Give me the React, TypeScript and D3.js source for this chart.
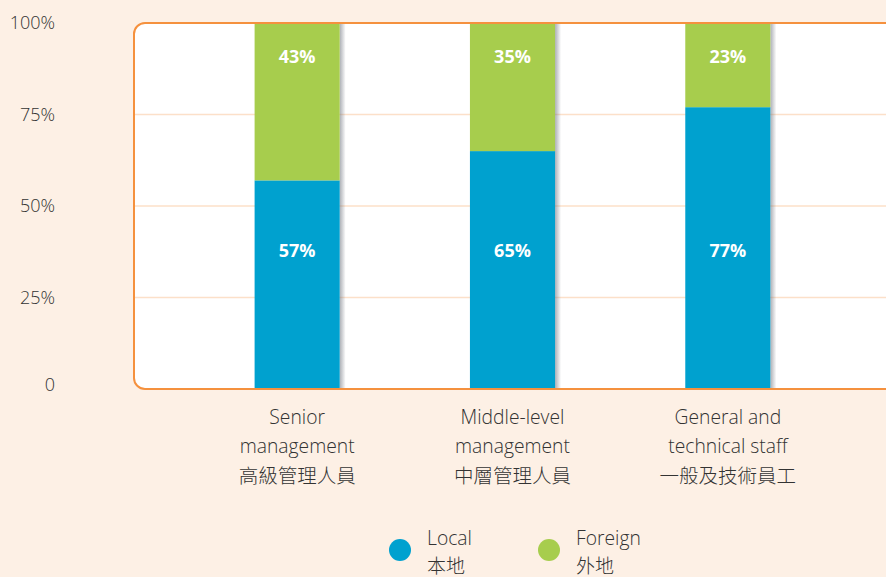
import React from "react";
import * as d3 from "d3";

const categoriesEn: string[][] = [
  ["Senior", "management"],
  ["Middle-level", "management"],
  ["General and", "technical staff"],
];
const categoriesZh: string[] = ["高級管理人員", "中層管理人員", "一般及技術員工"];
const localValues: number[] = [57, 65, 77];
const foreignValues: number[] = [43, 35, 23];
const yTicks: number[] = [0, 25, 50, 75, 100];
const yTickLabels: string[] = ["0", "25%", "50%", "75%", "100%"];
const legendEn: string[] = ["Local", "Foreign"];
const legendZh: string[] = ["本地", "外地"];

const W = 886;
const H = 577;
const BG = "#fdf0e5";
const ORANGE = "#f5913e";
const GRID = "#fce0c9";
const BLUE = "#00a1cf";
const GREEN = "#a7cd4d";
const TEXT = "#333333";
const FONT = "'Open Sans', 'Noto Sans', sans-serif";
const CJK = "'Noto Sans CJK TC', 'Noto Sans CJK SC', sans-serif";

export default function App() {
  const plotLeft = 134;
  const plotTop = 23;
  const plotBottom = 389;
  const y = d3.scaleLinear().domain([0, 100]).range([plotBottom, plotTop]);
  const x = d3
    .scaleBand<number>()
    .domain(d3.range(categoriesZh.length))
    .range([190, 835])
    .paddingInner(0.6047)
    .paddingOuter(0.3);
  const bw = x.bandwidth();
  const colors = [BLUE, GREEN];
  const stack = d3.stack<number>().keys(["local", "foreign"]).value((i, k) =>
    k === "local" ? localValues[i] : foreignValues[i]
  );
  const series = stack(d3.range(categoriesZh.length));

  return (
    <svg
      width={W}
      height={H}
      style={{ position: "absolute", left: 0, top: 0, display: "block" }}
    >
      <defs>
        <linearGradient id="shadow" x1="0" x2="1" y1="0" y2="0">
          <stop offset="0" stopColor="#6a6f7a" stopOpacity={0.55} />
          <stop offset="1" stopColor="#6a6f7a" stopOpacity={0} />
        </linearGradient>
        <clipPath id="plotclip">
          <rect x={plotLeft} y={plotTop} width={W + 40 - plotLeft} height={plotBottom - plotTop} rx={11} />
        </clipPath>
      </defs>
      <rect x={0} y={0} width={W} height={H} fill={BG} />
      <rect
        x={plotLeft}
        y={plotTop}
        width={W + 40 - plotLeft}
        height={plotBottom - plotTop}
        rx={11}
        fill="#ffffff"
      />
      <g clipPath="url(#plotclip)">
        {yTicks
          .filter((t) => t > 0 && t < 100)
          .map((t) => (
            <line
              key={t}
              x1={plotLeft}
              x2={W}
              y1={y(t)}
              y2={y(t)}
              stroke={GRID}
              strokeWidth={1.5}
            />
          ))}
        {d3.range(categoriesZh.length).map((i) => (
          <rect
            key={"sh" + i}
            x={(x(i) as number) + bw}
            y={plotTop}
            width={6}
            height={plotBottom - plotTop}
            fill="url(#shadow)"
          />
        ))}
        {series.map((s, si) =>
          s.map((d, i) => (
            <rect
              key={si + "-" + i}
              x={x(i) as number}
              y={y(d[1])}
              width={bw}
              height={y(d[0]) - y(d[1])}
              fill={colors[si]}
            />
          ))
        )}
      </g>
      <rect
        x={plotLeft}
        y={plotTop}
        width={W + 40 - plotLeft}
        height={plotBottom - plotTop}
        rx={11}
        fill="none"
        stroke={ORANGE}
        strokeWidth={2}
      />
      {yTicks.map((t, i) => (
        <text
          key={t}
          x={55}
          y={t === 0 ? y(t) - 5 : y(t) - 1}
          textAnchor="end"
          dominantBaseline="central"
          fontFamily={FONT}
          fontWeight={300}
          fontSize={18}
          fill={TEXT}
        >
          {yTickLabels[i]}
        </text>
      ))}
      {d3.range(categoriesZh.length).map((i) => {
        const cx = (x(i) as number) + bw / 2;
        return (
          <g key={"lab" + i}>
            <text
              x={cx}
              y={y(38)}
              textAnchor="middle"
              dominantBaseline="central"
              fontFamily={FONT}
              fontWeight={700}
              fontSize={18}
              fill="#ffffff"
            >
              {localValues[i]}%
            </text>
            <text
              x={cx}
              y={y(91)}
              textAnchor="middle"
              dominantBaseline="central"
              fontFamily={FONT}
              fontWeight={700}
              fontSize={18}
              fill="#ffffff"
            >
              {foreignValues[i]}%
            </text>
            {categoriesEn[i].map((line, li) => (
              <text
                key={li}
                x={cx}
                y={416 + li * 29}
                textAnchor="middle"
                dominantBaseline="central"
                fontFamily={FONT}
                fontWeight={300}
                fontSize={19.3}
                fill={TEXT}
              >
                {line}
              </text>
            ))}
            <text
              x={cx}
              y={474}
              textAnchor="middle"
              dominantBaseline="central"
              fontFamily={CJK}
              fontWeight={300}
              fontSize={19.5}
              fill={TEXT}
            >
              {categoriesZh[i]}
            </text>
          </g>
        );
      })}
      {legendEn.map((name, i) => {
        const lx = 400 + i * 149;
        return (
          <g key={name}>
            <circle cx={lx} cy={550} r={11} fill={colors[i]} />
            <text
              x={lx + 27}
              y={537}
              dominantBaseline="central"
              fontFamily={FONT}
              fontWeight={300}
              fontSize={19.3}
              fill={TEXT}
            >
              {name}
            </text>
            <text
              x={lx + 27}
              y={564}
              dominantBaseline="central"
              fontFamily={CJK}
              fontWeight={300}
              fontSize={19}
              fill={TEXT}
            >
              {legendZh[i]}
            </text>
          </g>
        );
      })}
    </svg>
  );
}
